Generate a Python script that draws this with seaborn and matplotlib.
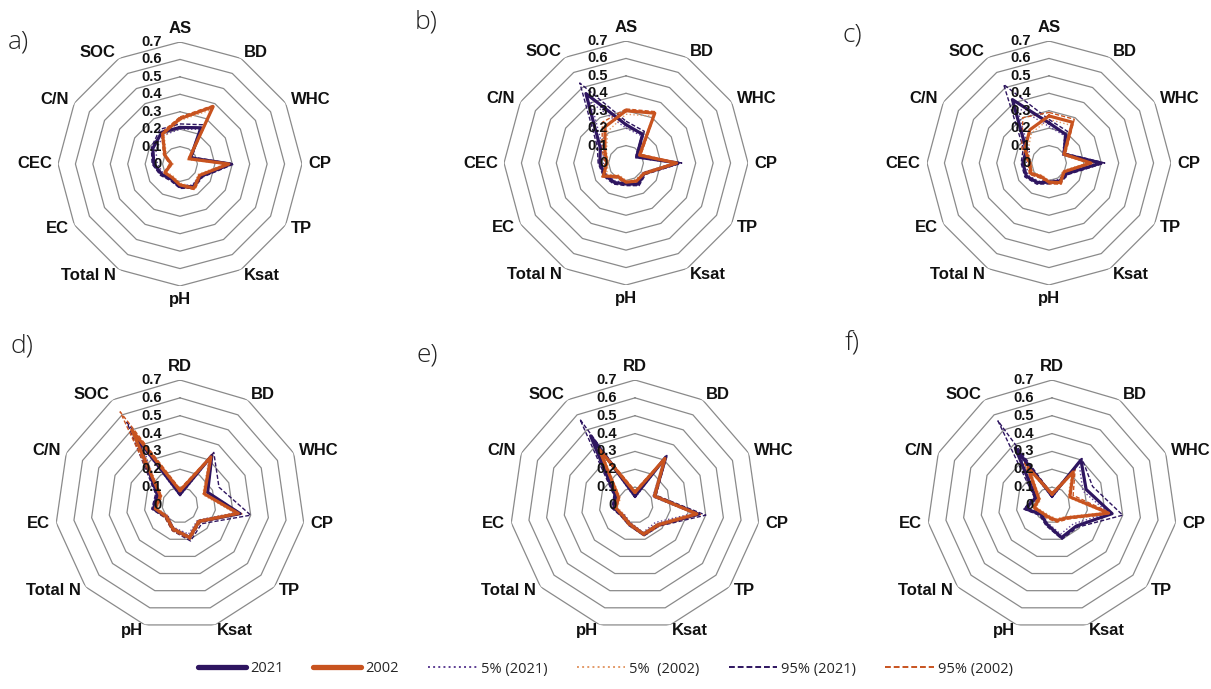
import numpy as np
import pandas as pd
import matplotlib
matplotlib.use("Agg")
import matplotlib.pyplot as plt
from matplotlib.lines import Line2D
import seaborn as sns

# ---------------- data ----------------
cats_top = ["AS", "BD", "WHC", "CP", "TP", "Ksat", "pH", "Total N", "EC", "CEC", "C/N", "SOC"]
cats_bottom = ["RD", "BD", "WHC", "CP", "TP", "Ksat", "pH", "Total N", "EC", "C/N", "SOC"]
ring_values = [0.1, 0.2, 0.3, 0.4, 0.5, 0.6, 0.7]
tick_values = [0.0, 0.1, 0.2, 0.3, 0.4, 0.5, 0.6, 0.7]
tick_labels = ["0", "0.1", "0.2", "0.3", "0.4", "0.5", "0.6", "0.7"]
panel_letters = ["a)", "b)", "c)", "d)", "e)", "f)"]
series_names = ["2021", "2002", "5% (2021)", "5%  (2002)", "95% (2021)", "95% (2002)"]

a_2021     = [0.21, 0.24, 0.07, 0.29, 0.14, 0.15, 0.13, 0.10, 0.12, 0.15, 0.18, 0.21]
a_2002     = [0.26, 0.38, 0.06, 0.28, 0.13, 0.16, 0.12, 0.09, 0.10, 0.05, 0.10, 0.20]
a_p5_2021  = [0.20, 0.23, 0.06, 0.27, 0.13, 0.14, 0.12, 0.09, 0.11, 0.13, 0.16, 0.19]
a_p5_2002  = [0.25, 0.36, 0.05, 0.26, 0.12, 0.15, 0.11, 0.08, 0.09, 0.04, 0.09, 0.18]
a_p95_2021 = [0.23, 0.26, 0.08, 0.31, 0.15, 0.16, 0.14, 0.11, 0.13, 0.16, 0.19, 0.23]
a_p95_2002 = [0.27, 0.39, 0.07, 0.29, 0.14, 0.17, 0.13, 0.10, 0.11, 0.06, 0.11, 0.21]

b_2021     = [0.22, 0.19, 0.07, 0.30, 0.12, 0.14, 0.12, 0.13, 0.14, 0.15, 0.17, 0.46]
b_2002     = [0.30, 0.33, 0.09, 0.29, 0.12, 0.12, 0.11, 0.09, 0.15, 0.11, 0.14, 0.24]
b_p5_2021  = [0.20, 0.18, 0.06, 0.28, 0.11, 0.13, 0.11, 0.12, 0.13, 0.13, 0.15, 0.40]
b_p5_2002  = [0.28, 0.31, 0.08, 0.27, 0.11, 0.11, 0.10, 0.08, 0.13, 0.10, 0.13, 0.21]
b_p95_2021 = [0.24, 0.21, 0.08, 0.32, 0.13, 0.15, 0.13, 0.14, 0.15, 0.16, 0.19, 0.53]
b_p95_2002 = [0.31, 0.34, 0.10, 0.30, 0.13, 0.13, 0.12, 0.10, 0.16, 0.12, 0.16, 0.27]

c_2021     = [0.23, 0.19, 0.10, 0.30, 0.12, 0.12, 0.11, 0.13, 0.15, 0.15, 0.15, 0.42]
c_2002     = [0.27, 0.27, 0.10, 0.24, 0.10, 0.13, 0.11, 0.09, 0.12, 0.11, 0.16, 0.22]
c_p5_2021  = [0.21, 0.18, 0.09, 0.28, 0.11, 0.11, 0.10, 0.12, 0.14, 0.13, 0.13, 0.37]
c_p5_2002  = [0.25, 0.25, 0.09, 0.22, 0.09, 0.12, 0.10, 0.08, 0.11, 0.10, 0.14, 0.20]
c_p95_2021 = [0.25, 0.21, 0.11, 0.32, 0.13, 0.13, 0.12, 0.14, 0.16, 0.16, 0.17, 0.52]
c_p95_2002 = [0.29, 0.29, 0.11, 0.26, 0.11, 0.14, 0.12, 0.10, 0.13, 0.12, 0.18, 0.30]

d_2021     = [0.06, 0.33, 0.17, 0.34, 0.14, 0.19, 0.14, 0.10, 0.15, 0.14, 0.45]
d_2002     = [0.08, 0.32, 0.15, 0.33, 0.14, 0.19, 0.14, 0.10, 0.14, 0.12, 0.50]
d_p5_2021  = [0.05, 0.30, 0.15, 0.31, 0.13, 0.17, 0.13, 0.09, 0.14, 0.13, 0.38]
d_p5_2002  = [0.07, 0.30, 0.14, 0.31, 0.13, 0.18, 0.13, 0.09, 0.13, 0.11, 0.42]
d_p95_2021 = [0.07, 0.35, 0.24, 0.40, 0.16, 0.21, 0.15, 0.11, 0.16, 0.15, 0.55]
d_p95_2002 = [0.09, 0.34, 0.17, 0.35, 0.15, 0.20, 0.15, 0.11, 0.15, 0.13, 0.62]

e_2021     = [0.05, 0.32, 0.12, 0.36, 0.17, 0.17, 0.11, 0.09, 0.12, 0.12, 0.46]
e_2002     = [0.07, 0.31, 0.12, 0.35, 0.17, 0.17, 0.11, 0.09, 0.11, 0.10, 0.37]
e_p5_2021  = [0.04, 0.30, 0.11, 0.33, 0.15, 0.16, 0.10, 0.08, 0.11, 0.11, 0.40]
e_p5_2002  = [0.06, 0.29, 0.11, 0.33, 0.16, 0.16, 0.10, 0.08, 0.10, 0.09, 0.33]
e_p95_2021 = [0.06, 0.33, 0.13, 0.40, 0.18, 0.18, 0.12, 0.10, 0.13, 0.13, 0.57]
e_p95_2002 = [0.08, 0.32, 0.13, 0.37, 0.18, 0.18, 0.12, 0.10, 0.12, 0.11, 0.42]

f_2021     = [0.05, 0.30, 0.21, 0.34, 0.18, 0.19, 0.11, 0.08, 0.15, 0.10, 0.38]
f_2002     = [0.06, 0.22, 0.11, 0.32, 0.11, 0.09, 0.07, 0.07, 0.10, 0.08, 0.25]
f_p5_2021  = [0.04, 0.28, 0.19, 0.32, 0.16, 0.17, 0.10, 0.07, 0.14, 0.09, 0.33]
f_p5_2002  = [0.05, 0.20, 0.10, 0.30, 0.10, 0.08, 0.06, 0.06, 0.09, 0.07, 0.22]
f_p95_2021 = [0.06, 0.31, 0.25, 0.40, 0.19, 0.20, 0.12, 0.09, 0.16, 0.11, 0.56]
f_p95_2002 = [0.07, 0.24, 0.13, 0.34, 0.12, 0.10, 0.08, 0.08, 0.11, 0.09, 0.29]

# ---------------- styling ----------------
sns.set_theme(style="white")
plt.rcParams['font.family'] = ['Liberation Sans', 'DejaVu Sans']

PURPLE = "#2E1560"
ORANGE = "#C8531F"
PURPLE_LIGHT = "#5E3F94"
ORANGE_LIGHT = "#E39A68"
GRID = "#8A8A8A"

# style for each series: (color, linewidth, linestyle, zorder)
styles = {
    "5% (2021)":  (PURPLE_LIGHT, 1.0, ":", 2),
    "5%  (2002)": (ORANGE_LIGHT, 1.0, ":", 2),
    "95% (2021)": (PURPLE, 1.0, (0, (3, 1.5)), 2),
    "95% (2002)": (ORANGE, 1.0, (0, (3, 1.5)), 2),
    "2021":       (PURPLE, 2.3, "-", 3),
    "2002":       (ORANGE, 2.3, "-", 4),
}
draw_order = ["5% (2021)", "5%  (2002)", "95% (2021)", "95% (2002)", "2021", "2002"]

W, H = 1211, 689
fig = plt.figure(figsize=(W / 100, H / 100), dpi=100)
fig.patch.set_facecolor("white")

panels = [
    ("a)", cats_top, [a_2021, a_2002, a_p5_2021, a_p5_2002, a_p95_2021, a_p95_2002], (180, 164), 122, (8, 42)),
    ("b)", cats_top, [b_2021, b_2002, b_p5_2021, b_p5_2002, b_p95_2021, b_p95_2002], (626, 163), 122, (415, 22)),
    ("c)", cats_top, [c_2021, c_2002, c_p5_2021, c_p5_2002, c_p95_2021, c_p95_2002], (1049, 163), 122, (843, 35)),
    ("d)", cats_bottom, [d_2021, d_2002, d_p5_2021, d_p5_2002, d_p95_2021, d_p95_2002], (180, 505), 125, (10, 346)),
    ("e)", cats_bottom, [e_2021, e_2002, e_p5_2021, e_p5_2002, e_p95_2021, e_p95_2002], (635, 505), 125, (416, 355)),
    ("f)", cats_bottom, [f_2021, f_2002, f_p5_2021, f_p5_2002, f_p95_2021, f_p95_2002], (1052, 505), 125, (845, 344)),
]

for letter, cats, values, (cx, cy), R, (lx, ly) in panels:
    n = len(cats)
    ax = fig.add_axes([(cx - R) / W, 1 - (cy + R) / H, 2 * R / W, 2 * R / H], projection="polar")
    ax.set_theta_offset(np.pi / 2)
    ax.set_theta_direction(-1)
    ax.set_ylim(0, 0.7)
    ax.set_axis_off()

    theta = np.linspace(0, 2 * np.pi, n, endpoint=False)
    theta_c = np.append(theta, theta[0])

    # polygon grid rings
    for r in ring_values:
        ax.plot(theta_c, [r] * (n + 1), color=GRID, lw=0.9, zorder=1)

    # data series
    data = dict(zip(series_names, values))
    for name in draw_order:
        vals = list(data[name])
        df = pd.DataFrame({"theta": theta_c, "r": vals + [vals[0]]})
        col, lw, ls, z = styles[name]
        sns.lineplot(data=df, x="theta", y="r", ax=ax, sort=False, estimator=None,
                     color=col, linewidth=lw, linestyle=ls, zorder=z, legend=False)
    ax.set_xlabel("")
    ax.set_ylabel("")

    # category labels
    for th, cat in zip(theta, cats):
        phi = np.pi / 2 - th
        c, s = np.cos(phi), np.sin(phi)
        ha = "left" if c > 0.05 else ("right" if c < -0.05 else "center")
        if s > 0.97:
            va = "bottom"
        elif s < -0.97:
            va = "top"
        else:
            va = "center"
        ax.annotate(cat, xy=(th, 0.7), xytext=(4.5 * c, 4.5 * s), textcoords="offset points",
                    ha=ha, va=va, fontsize=12, fontweight="bold", color="#111111",
                    annotation_clip=False)

    # radial tick labels
    for tv, tl in zip(tick_values, tick_labels):
        ax.annotate(tl, xy=(0, tv), xytext=(-13, 0), textcoords="offset points",
                    ha="right", va="center", fontsize=10.5, fontweight="bold",
                    color="#111111", annotation_clip=False, zorder=5)

    fig.text(lx / W, 1 - ly / H, letter, fontsize=19, family=["Open Sans", "DejaVu Sans"],
             fontweight="light", color="#222222", ha="left", va="center")

# legend
handles = []
for name in series_names:
    col, lw, ls, z = styles[name]
    if name in ("2021", "2002"):
        handles.append(Line2D([], [], color=col, lw=3.8, ls="-"))
    else:
        handles.append(Line2D([], [], color=col, lw=1.4, ls=ls))
fig.legend(handles, series_names, ncol=6, loc="center", bbox_to_anchor=(0.5, 1 - 669 / H),
           frameon=False, prop={"family": ["Open Sans", "DejaVu Sans"], "size": 10.5},
           handlelength=3.3, handletextpad=0.3, columnspacing=2.0)

fig.savefig("out.png", dpi=100, facecolor="white")
